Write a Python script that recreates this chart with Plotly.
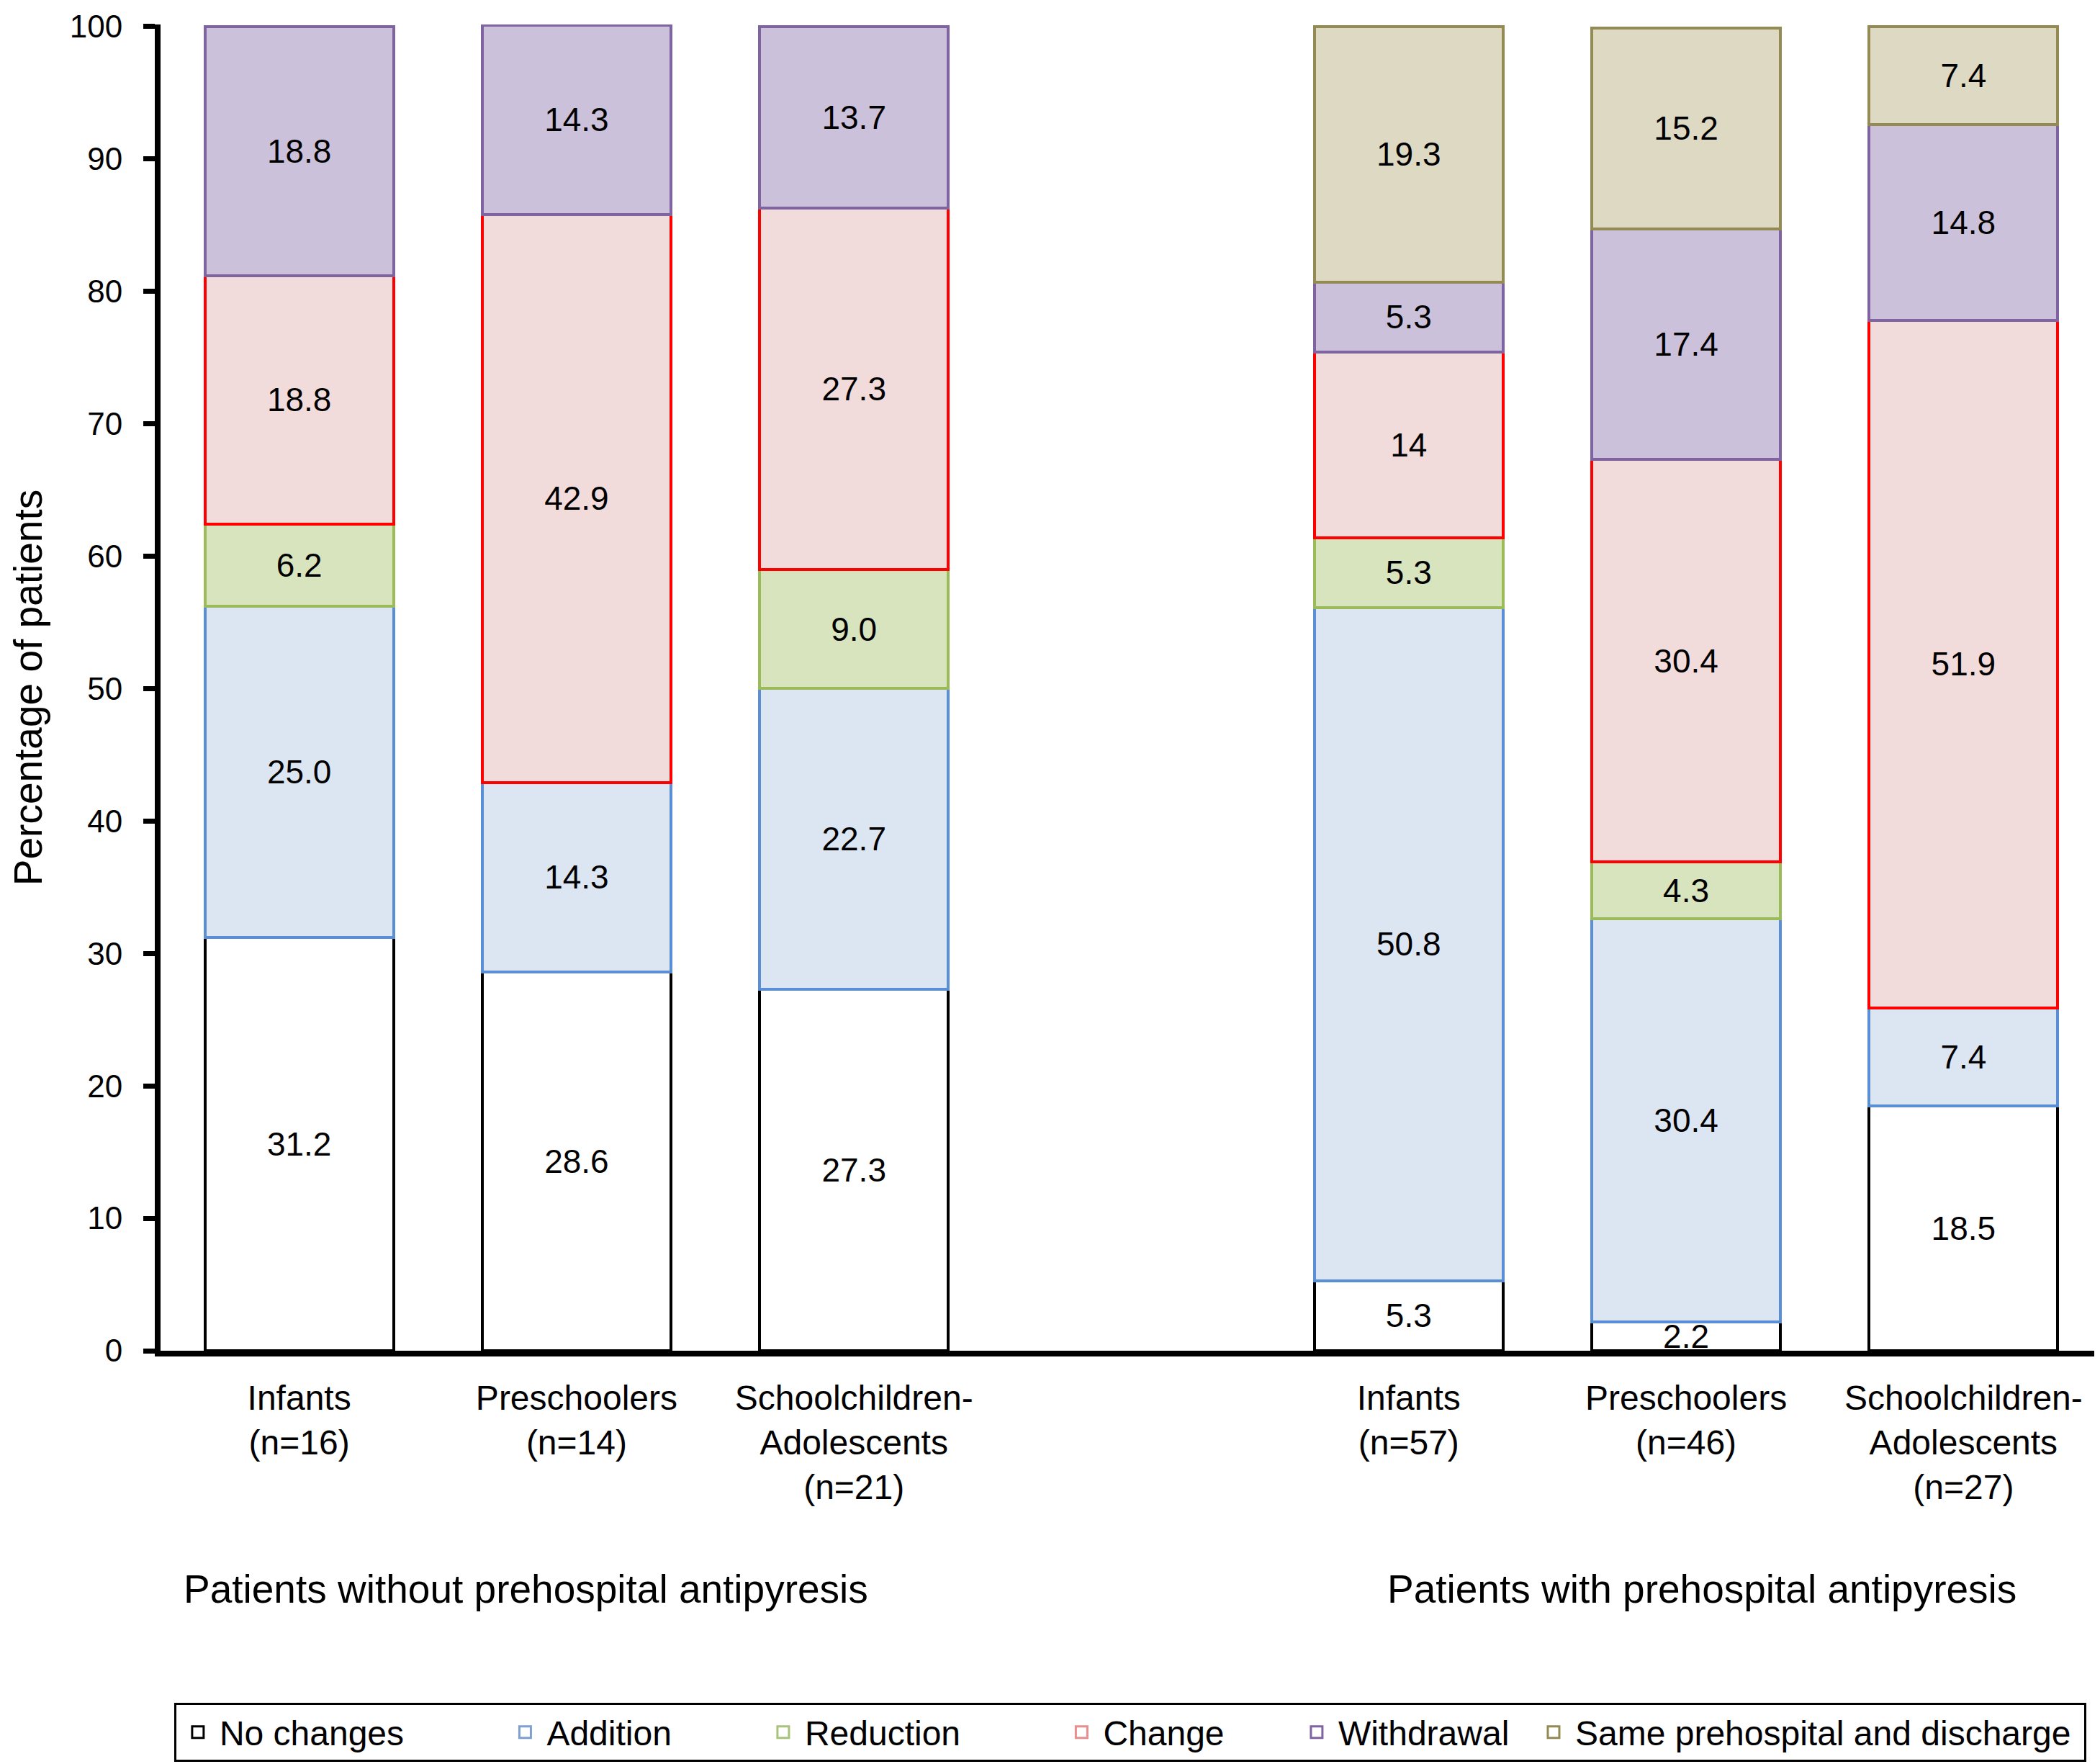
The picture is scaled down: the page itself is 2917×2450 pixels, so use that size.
import plotly.graph_objects as go

# ---- data ----
positions = [0, 1, 2, 4, 5, 6]
categories = [
    "Infants<br>(n=16)", "Preschoolers<br>(n=14)", "Schoolchildren-<br>Adolescents<br>(n=21)",
    "Infants<br>(n=57)", "Preschoolers<br>(n=46)", "Schoolchildren-<br>Adolescents<br>(n=27)",
]
no_changes = ["31.2", "28.6", "27.3", "5.3", "2.2", "18.5"]
addition = ["25.0", "14.3", "22.7", "50.8", "30.4", "7.4"]
reduction = ["6.2", None, "9.0", "5.3", "4.3", None]
change = ["18.8", "42.9", "27.3", "14", "30.4", "51.9"]
withdrawal = ["18.8", "14.3", "13.7", "5.3", "17.4", "14.8"]
same = [None, None, None, "19.3", "15.2", "7.4"]
group_titles = ["Patients without prehospital antipyresis", "Patients with prehospital antipyresis"]

series = [
    ("No changes", no_changes, "#ffffff", "#000000", "#000000"),
    ("Addition", addition, "#dce6f2", "#5a8fd6", "#7f9fcf"),
    ("Reduction", reduction, "#d7e4bd", "#9bbb59", "#a9c27c"),
    ("Change", change, "#f2dcdb", "#ff0000", "#e88e8e"),
    ("Withdrawal", withdrawal, "#ccc1da", "#8064a2", "#8064a2"),
    ("Same prehospital and discharge", same, "#ddd9c3", "#948a54", "#948a54"),
]
legend_pad = {"No changes": 10, "Addition": 9, "Reduction": 10, "Change": 7, "Withdrawal": 2,
              "Same prehospital and discharge": 1}

FONT = "Liberation Sans, Arial, Helvetica, sans-serif"

fig = go.Figure()
for name, vals, fill, line, legcol in series:
    y = [float(v) if v is not None else None for v in vals]
    txt = [v if v is not None else "" for v in vals]
    fig.add_trace(go.Bar(
        x=positions, y=y, text=txt, name=name, showlegend=False,
        width=0.68,
        marker=dict(color=fill, line=dict(color=line, width=4)),
        textposition="inside", insidetextanchor="middle", textangle=0,
        constraintext="none", cliponaxis=False,
        textfont=dict(size=46, color="black", family=FONT),
    ))

for name, vals, fill, line, legcol in series:
    fig.add_trace(go.Scatter(
        x=[None], y=[None], mode="markers",
        name=name + "\u00a0" * legend_pad[name],
        marker=dict(symbol="square-open", size=16, color=legcol, line=dict(width=3, color=legcol)),
    ))

fig.add_annotation(x=0.188, y=-0.1797, xref="paper", yref="paper", text=group_titles[0],
                   showarrow=False, xanchor="center", yanchor="middle",
                   font=dict(size=55, color="black", family=FONT))
fig.add_annotation(x=0.794, y=-0.1797, xref="paper", yref="paper", text=group_titles[1],
                   showarrow=False, xanchor="center", yanchor="middle",
                   font=dict(size=55, color="black", family=FONT))

fig.update_layout(
    width=2917, height=2450,
    margin=dict(l=215, r=5, t=26, b=582),
    barmode="stack",
    paper_bgcolor="white", plot_bgcolor="white",
    font=dict(family=FONT, color="black"),
    xaxis=dict(
        range=[-0.5, 6.5], tickmode="array", tickvals=positions, ticktext=categories,
        showline=True, linecolor="black", linewidth=8, ticks="", showgrid=False,
        zeroline=False, tickfont=dict(size=48, color="black"), ticklabelstandoff=16,
        automargin=False,
    ),
    yaxis=dict(
        range=[0, 100.15], tickmode="array", tickvals=[0, 10, 20, 30, 40, 50, 60, 70, 80, 90, 100],
        ticks="outside", ticklen=16, tickwidth=7,
        tickcolor="black", showline=True, linecolor="black", linewidth=8,
        showgrid=False, zeroline=False, tickfont=dict(size=44, color="black"),
        ticklabelstandoff=20, automargin=False, ticklabeloverflow="allow",
        title=dict(text="Percentage of patients", font=dict(size=55, color="black"), standoff=68),
    ),
    legend=dict(
        orientation="h", traceorder="normal", x=0.007, xanchor="left", y=-0.2655, yanchor="top",
        bordercolor="black", borderwidth=3, font=dict(size=48, color="black"),
        bgcolor="white", itemwidth=50,
    ),
)

fig.write_html("out.html")
